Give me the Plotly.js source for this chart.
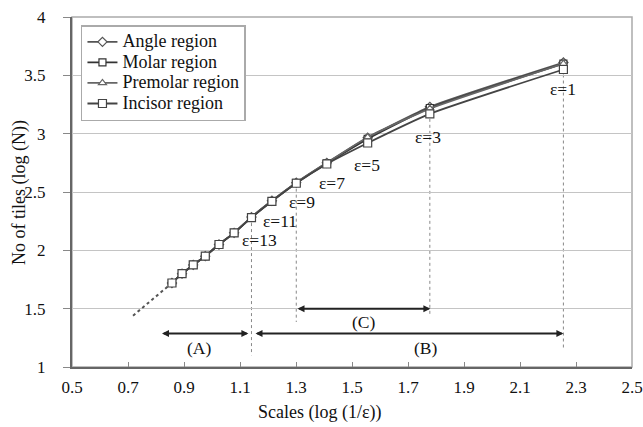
<!DOCTYPE html>
<html>
<head>
<meta charset="utf-8">
<script src="https://cdn.plot.ly/plotly-3.0.1.min.js"></script>
<style>html,body{margin:0;padding:0;background:#fff;}#chart{width:643px;height:427px;}</style>
</head>
<body>
<div id="chart"></div>
<script>
// ---- data ----
const epsValues = [1, 3, 5, 7, 9, 11, 13, 15, 17, 19, 21, 23, 25];
const scales    = [2.255, 1.778, 1.556, 1.410, 1.301, 1.214, 1.141, 1.079, 1.025, 0.976, 0.933, 0.893, 0.857];
const angle     = [3.61, 3.23, 2.965, 2.750, 2.580, 2.425, 2.285, 2.150, 2.050, 1.950, 1.875, 1.800, 1.720];
const molar     = [3.60, 3.22, 2.955, 2.745, 2.578, 2.423, 2.283, 2.150, 2.050, 1.950, 1.875, 1.800, 1.720];
const premolar  = [3.60, 3.215, 2.970, 2.750, 2.580, 2.425, 2.285, 2.150, 2.050, 1.950, 1.875, 1.800, 1.720];
const incisor   = [3.55, 3.17, 2.920, 2.740, 2.575, 2.420, 2.280, 2.150, 2.050, 1.950, 1.875, 1.800, 1.720];
const extX = [0.718, 0.857];
const extY = [1.44, 1.72];
const seriesNames = ['Angle region', 'Molar region', 'Premolar region', 'Incisor region'];
const labelledEps = [1, 3, 5, 7, 9, 11, 13];
const rangeA = [0.816, 1.13];
const rangeB = [1.15, 2.255];
const rangeC = [1.30, 1.78];
const xTickVals = [0.5, 0.7, 0.9, 1.1, 1.3, 1.5, 1.7, 1.9, 2.1, 2.3, 2.5];
const yTickVals = [1, 1.5, 2, 2.5, 3, 3.5, 4];

const FONT = 'Liberation Serif, Times New Roman, serif';

const styles = [
  {sym: 'diamond', col: '#555555', size: 7},
  {sym: 'square', col: '#333333', size: 7},
  {sym: 'triangle-up', col: '#666666', size: 7},
  {sym: 'square', col: '#444444', size: 8}
];
const seriesData = [angle, molar, premolar, incisor];

const traces = [];
traces.push({
  x: extX, y: extY, mode: 'lines', showlegend: false, hoverinfo: 'skip',
  line: {color: '#555', width: 2, dash: 'dot'}
});
seriesData.forEach((ys, i) => {
  traces.push({
    x: scales, y: ys, name: '<span style="font-size:18px">' + seriesNames[i] + '</span>',
    mode: 'lines+markers',
    line: {color: styles[i].col, width: 1.8, shape: 'spline', smoothing: 0.5},
    marker: {symbol: styles[i].sym, size: styles[i].size, color: '#ffffff',
             line: {color: styles[i].col, width: 1.2}}
  });
});

const labelOffsets = {1: [0, -0.17], 3: [-0.007, -0.2], 5: [-0.004, -0.19], 7: [0.017, -0.16],
                      9: [0.019, -0.16], 11: [0.029, -0.17], 13: [0.03, -0.19]};
const txtFont = {family: FONT, size: 17.5, color: '#111'};
const annotations = [];
labelledEps.forEach(e => {
  const k = epsValues.indexOf(e);
  const off = labelOffsets[e];
  annotations.push({x: scales[k] + off[0], y: incisor[k] + off[1], xref: 'x', yref: 'y',
    text: 'ε=' + e, showarrow: false, font: txtFont});
});
function dblArrow(r, y) {
  return {x: r[1], y: y, ax: r[0], ay: y, xref: 'x', yref: 'y', axref: 'x', ayref: 'y', text: '',
     showarrow: true, arrowhead: 2, arrowside: 'end+start', arrowsize: 0.7, arrowwidth: 2, arrowcolor: '#222'};
}
annotations.push(dblArrow(rangeA, 1.287), dblArrow(rangeB, 1.287), dblArrow(rangeC, 1.5));
annotations.push({x: 0.954, y: 1.162, xref: 'x', yref: 'y', text: '(A)', showarrow: false, font: txtFont});
annotations.push({x: 1.763, y: 1.162, xref: 'x', yref: 'y', text: '(B)', showarrow: false, font: txtFont});
annotations.push({x: 1.543, y: 1.385, xref: 'x', yref: 'y', text: '(C)', showarrow: false, font: txtFont});
// axis titles
annotations.push({x: 0.443, y: -0.129, xref: 'paper', yref: 'paper', xanchor: 'center', yanchor: 'middle',
  text: 'Scales (log (1/ε))', showarrow: false, font: {family: FONT, size: 18, color: '#111'}});
annotations.push({x: -0.0946, y: 0.497, xref: 'paper', yref: 'paper', xanchor: 'center', yanchor: 'middle',
  textangle: -90, text: 'No of tiles (log (N))', showarrow: false, font: {family: FONT, size: 18, color: '#111'}});

const shapes = [];
shapes.push({type: 'rect', xref: 'x', yref: 'y', x0: 1.266, x1: 1.832, y0: 1.47, y1: 1.53,
  fillcolor: '#ffffff', line: {width: 0}, layer: 'below'});
const guideBottoms = {13: 1.10, 9: 1.386, 3: 1.43, 1: 1.144};
[13, 9, 3, 1].forEach(e => {
  const k = epsValues.indexOf(e);
  shapes.push({type: 'line', xref: 'x', yref: 'y', x0: scales[k], x1: scales[k],
    y0: angle[k], y1: guideBottoms[e], line: {color: '#888', width: 1, dash: 'dot'}, layer: 'below'});
});
shapes.push({type: 'rect', xref: 'paper', yref: 'paper', x0: 0, x1: 1, y0: 0, y1: 1,
  line: {color: '#aaaaaa', width: 1.5}, layer: 'below'});

const layout = {
  width: 643, height: 427,
  margin: {l: 72, r: 11, t: 17, b: 60},
  paper_bgcolor: '#ffffff', plot_bgcolor: '#ffffff',
  font: {family: FONT, size: 17, color: '#111'},
  showlegend: true,
  legend: {x: 0.016, y: 0.977, xanchor: 'left', yanchor: 'top', bgcolor: '#ffffff',
    bordercolor: '#aaaaaa', borderwidth: 1.5, font: {family: FONT, size: 13.5, color: '#111'},
    tracegroupgap: 0, itemwidth: 30},
  xaxis: {range: [0.5, 2.5], tickvals: xTickVals, ticktext: xTickVals.map(v => v.toFixed(1)),
    showgrid: false, zeroline: false,
    showline: true, linecolor: '#666', linewidth: 2, ticks: 'inside', ticklen: 5, tickcolor: '#888',
    ticklabelstandoff: 4,
    tickfont: {family: FONT, size: 17, color: '#111'}},
  yaxis: {range: [1, 4], tickvals: yTickVals, ticktext: yTickVals.map(v => String(v)),
    showgrid: true, gridcolor: '#c4c4c4', gridwidth: 1, zeroline: false,
    showline: true, linecolor: '#666', linewidth: 2, ticks: 'outside', ticklen: 7, tickcolor: '#888',
    ticklabelstandoff: 14,
    tickfont: {family: FONT, size: 17, color: '#111'}},
  annotations: annotations,
  shapes: shapes
};

Plotly.newPlot('chart', traces, layout, {displayModeBar: false, staticPlot: true});
</script>
</body>
</html>
